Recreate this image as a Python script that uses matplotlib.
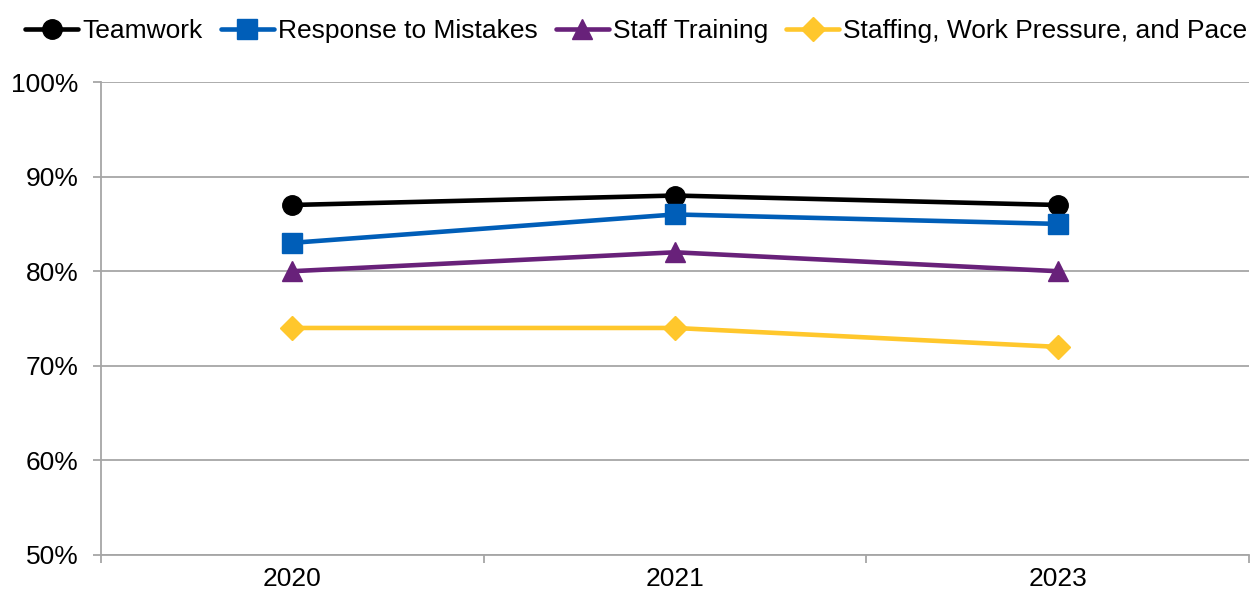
import matplotlib.pyplot as plt
import matplotlib.ticker as ticker

plt.rcParams['font.family'] = ['Liberation Sans', 'DejaVu Sans']

YEARS = ['2020', '2021', '2023']

SERIES = {
    'Teamwork': [87, 88, 87],
    'Response to Mistakes': [83, 86, 85],
    'Staff Training': [80, 82, 80],
    'Staffing, Work Pressure, and Pace': [74, 74, 72],
}

STYLES = {
    'Teamwork': {'color': '#000000', 'marker': 'o', 'ms': 14},
    'Response to Mistakes': {'color': '#005EB8', 'marker': 's', 'ms': 14},
    'Staff Training': {'color': '#68217A', 'marker': '^', 'ms': 15},
    'Staffing, Work Pressure, and Pace': {'color': '#FFC72C', 'marker': 'D', 'ms': 12},
}

GRID = '#A6A6A6'

fig = plt.figure(figsize=(12.5, 5.96), dpi=100)
ax = fig.add_axes([0.0808, 0.0688, 0.9184, 0.7936])

x = range(len(YEARS))
for label, vals in SERIES.items():
    st = STYLES[label]
    ax.plot(x, vals, color=st['color'], marker=st['marker'], ms=st['ms'],
            lw=3.3, label=label, solid_capstyle='round', clip_on=False)

ax.set_xlim(-0.5, len(YEARS) - 0.5)
ax.set_ylim(50, 100)
ax.yaxis.set_major_locator(ticker.MultipleLocator(10))
ax.yaxis.set_major_formatter(ticker.FuncFormatter(lambda v, p: f'{v:.0f}%'))
ax.grid(True, axis='y', color=GRID, lw=1.3)
ax.set_axisbelow(True)

# category boundaries get the tick marks, labels sit between them
ax.set_xticks([i - 0.5 for i in range(len(YEARS) + 1)])
ax.set_xticklabels([])
ax.set_xticks(list(x), minor=True)
ax.set_xticklabels(YEARS, minor=True)
ax.tick_params(axis='x', which='major', length=6, color=GRID, width=1.3)
ax.tick_params(axis='x', which='minor', length=0, labelsize=19, pad=9)
ax.tick_params(axis='y', length=6, color=GRID, width=1.3, labelsize=19, pad=10)

for s in ['top', 'right']:
    ax.spines[s].set_visible(False)
for s in ['left', 'bottom']:
    ax.spines[s].set_color(GRID)
    ax.spines[s].set_linewidth(1.3)

fig.legend(loc='upper center', bbox_to_anchor=(0.509, 0.995), ncol=4, frameon=False,
           fontsize=19, handlelength=2.0, handletextpad=0.15, columnspacing=0.7,
           borderaxespad=0.2)

plt.savefig('out.png', dpi=100)
plt.close()
